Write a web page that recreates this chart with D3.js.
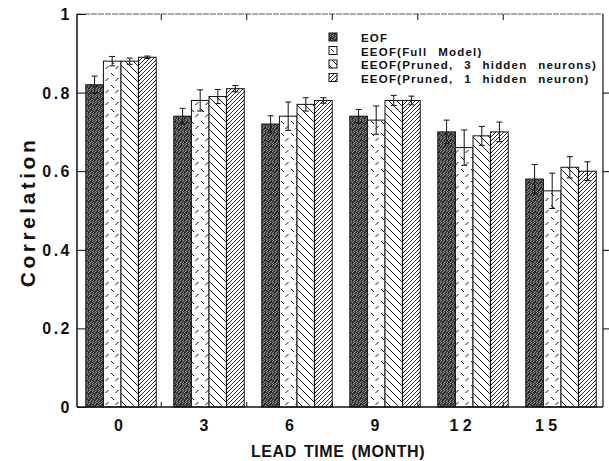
<!DOCTYPE html>
<html>
<head>
<meta charset="utf-8">
<script src="https://cdn.jsdelivr.net/npm/d3@7"></script>
<style>
  body { margin: 0; background: #fff; }
  text { font-family: "Liberation Sans", Arial, sans-serif; font-weight: bold; fill: #111; }
</style>
</head>
<body>
<script>
// lead times and their printed labels
var months = [0, 3, 6, 9, 12, 15];
var monthLabels = ["0", "3", "6", "9", "1 2", "1 5"];
var series = ["EOF", "EEOF(Full  Model)", "EEOF(Pruned,  3  hidden  neurons)", "EEOF(Pruned,  1  hidden  neuron)"];

// correlation per series
var eof     = [0.82, 0.74, 0.72, 0.74, 0.70, 0.58];
var full    = [0.88, 0.78, 0.74, 0.73, 0.66, 0.55];
var pruned3 = [0.88, 0.79, 0.77, 0.78, 0.69, 0.61];
var pruned1 = [0.89, 0.81, 0.78, 0.78, 0.70, 0.60];

// error bar half widths
var eofErr     = [0.022, 0.02, 0.021, 0.017, 0.03, 0.037];
var fullErr    = [0.012, 0.027, 0.036, 0.036, 0.045, 0.045];
var pruned3Err = [0.008, 0.018, 0.017, 0.013, 0.024, 0.027];
var pruned1Err = [0.003, 0.008, 0.007, 0.011, 0.025, 0.024];

var yTicks = [0, 0.2, 0.4, 0.6, 0.8, 1];
var yTickLabels = ["0", "0.2", "0.4", "0.6", "0.8", "1"];

var values = [eof, full, pruned3, pruned1];
var errors = [eofErr, fullErr, pruned3Err, pruned1Err];
var patterns = ["url(#pEof)", "url(#pFull)", "url(#pP3)", "url(#pP1)"];

var width = 609, height = 461;
var plotL = 77, plotR = 603, plotT = 14, plotB = 407;

var svg = d3.select('body')
    .append('svg')
    .attr('width', width)
    .attr('height', height);

// fill patterns
var defs = svg.append('defs');

var pe = defs.append('pattern').attr('id', 'pEof')
    .attr('patternUnits', 'userSpaceOnUse').attr('width', 6).attr('height', 6);
pe.append('rect').attr('width', 6).attr('height', 6).attr('fill', '#3c3c3c');
[[0, 0], [2, 1], [4, 2], [1, 3], [3, 4], [5, 5], [5, 1], [0, 4], [3, 0], [2, 5]].forEach(p => {
    pe.append('rect').attr('x', p[0]).attr('y', p[1]).attr('width', 1).attr('height', 1).attr('fill', '#8c8c8c');
});
[[1, 1], [4, 4], [0, 2]].forEach(p => {
    pe.append('rect').attr('x', p[0]).attr('y', p[1]).attr('width', 1).attr('height', 1).attr('fill', '#111');
});

var pf = defs.append('pattern').attr('id', 'pFull')
    .attr('patternUnits', 'userSpaceOnUse').attr('width', 10).attr('height', 12);
pf.append('rect').attr('width', 10).attr('height', 12).attr('fill', '#fff');
pf.append('path').attr('d', 'M1,1 L4,4 M8.5,6 L5.5,9')
    .attr('stroke', '#111').attr('stroke-width', 1).attr('fill', 'none');

var p3 = defs.append('pattern').attr('id', 'pP3')
    .attr('patternUnits', 'userSpaceOnUse').attr('width', 8).attr('height', 8);
p3.append('rect').attr('width', 8).attr('height', 8).attr('fill', '#fff');
p3.append('path').attr('d', 'M0,0 L8,8 M-1,7 L1,9 M7,-1 L9,1')
    .attr('stroke', '#111').attr('stroke-width', 1);

var p1 = defs.append('pattern').attr('id', 'pP1')
    .attr('patternUnits', 'userSpaceOnUse').attr('width', 4).attr('height', 4);
p1.append('rect').attr('width', 4).attr('height', 4).attr('fill', '#fff');
p1.append('path').attr('d', 'M0,4 L4,0 M-1,1 L1,-1 M3,5 L5,3')
    .attr('stroke', '#111').attr('stroke-width', 0.9);

var x = d3.scaleBand()
    .domain(months)
    .range([plotL, 605])
    .paddingInner(0.2)
    .paddingOuter(0.1);

var xs = d3.scaleBand()
    .domain(d3.range(series.length))
    .range([0, x.bandwidth()]);

// month positions used for the printed labels and minor ticks
var xm = d3.scaleLinear().domain([0, 15]).range([118.5, 546]);

var y = d3.scaleLinear().domain([0, 1]).range([plotB, plotT]);

// bars
values.forEach((vals, s) => {
    var g = svg.append('g');
    g.selectAll('rect')
        .data(vals)
        .enter()
        .append('rect')
        .attr('x', (d, i) => x(months[i]) + xs(s))
        .attr('y', d => y(d))
        .attr('width', xs.bandwidth())
        .attr('height', d => plotB - y(d))
        .attr('fill', patterns[s])
        .attr('stroke', '#111')
        .attr('stroke-width', 1);
});

// error bars
values.forEach((vals, s) => {
    vals.forEach((v, i) => {
        var cx = x(months[i]) + xs(s) + xs.bandwidth() / 2;
        var e = errors[s][i];
        var g = svg.append('g').attr('stroke', '#111').attr('stroke-width', 1);
        g.append('line').attr('x1', cx).attr('x2', cx).attr('y1', y(v - e)).attr('y2', y(v + e));
        g.append('line').attr('x1', cx - 3).attr('x2', cx + 3).attr('y1', y(v + e)).attr('y2', y(v + e));
        g.append('line').attr('x1', cx - 3).attr('x2', cx + 3).attr('y1', y(v - e)).attr('y2', y(v - e));
    });
});

// frame
svg.append('line').attr('x1', plotL).attr('x2', plotR).attr('y1', plotT).attr('y2', plotT)
    .attr('stroke', '#555').attr('stroke-width', 1).attr('stroke-dasharray', '6,1');
svg.append('line').attr('x1', plotL).attr('x2', plotR).attr('y1', plotB).attr('y2', plotB)
    .attr('stroke', '#111').attr('stroke-width', 1.5);
svg.append('line').attr('x1', plotL).attr('x2', plotL).attr('y1', plotT).attr('y2', plotB)
    .attr('stroke', '#111').attr('stroke-width', 1.5);
svg.append('line').attr('x1', plotR).attr('x2', plotR).attr('y1', plotT).attr('y2', plotB)
    .attr('stroke', '#111').attr('stroke-width', 1.2);

// y axis: inward ticks on left, outward on right
var yAxis = d3.axisLeft(y).tickValues(yTicks).tickSize(-9).tickFormat('');
var yAxisGroup = svg.append('g').attr('transform', 'translate(' + plotL + ',0)');
yAxis(yAxisGroup);
yAxisGroup.select('.domain').remove();
yAxisGroup.selectAll('line').attr('stroke', '#111');

var yAxisR = d3.axisRight(y).tickValues(yTicks.slice(1, 5)).tickSize(6).tickFormat('');
var yAxisRGroup = svg.append('g').attr('transform', 'translate(' + plotR + ',0)');
yAxisR(yAxisRGroup);
yAxisRGroup.select('.domain').remove();

svg.append('g').selectAll('text')
    .data(yTicks)
    .enter()
    .append('text')
    .attr('x', 72)
    .attr('y', d => y(d) + 6)
    .attr('text-anchor', 'end')
    .style('font-size', '16px')
    .style('letter-spacing', '2.5px')
    .text((d, i) => yTickLabels[i]);

// minor x ticks between groups (bottom up, top down)
var minor = months.slice(0, 5).map(m => m + 1.5);
svg.append('g').selectAll('line')
    .data(minor)
    .enter()
    .append('line')
    .attr('x1', d => xm(d)).attr('x2', d => xm(d))
    .attr('y1', plotB).attr('y2', plotB - 5)
    .attr('stroke', '#111');
svg.append('g').selectAll('line')
    .data(minor)
    .enter()
    .append('line')
    .attr('x1', d => xm(d)).attr('x2', d => xm(d))
    .attr('y1', plotT).attr('y2', plotT + 6)
    .attr('stroke', '#111');

svg.append('g').selectAll('text')
    .data(months)
    .enter()
    .append('text')
    .attr('x', d => xm(d))
    .attr('y', 431)
    .attr('text-anchor', 'middle')
    .style('font-size', '16px')
    .style('white-space', 'pre')
    .text((d, i) => monthLabels[i]);

// axis titles
svg.append('text')
    .attr('x', 338)
    .attr('y', 457)
    .attr('text-anchor', 'middle')
    .style('font-size', '16px')
    .style('letter-spacing', '0.6px')
    .style('word-spacing', '2px')
    .text('LEAD TIME (MONTH)');

svg.append('text')
    .attr('transform', 'translate(35,212) rotate(-90)')
    .attr('text-anchor', 'middle')
    .style('font-size', '21px')
    .style('letter-spacing', '3.5px')
    .text('Correlation');

// legend
var legend = svg.append('g');
series.forEach((name, s) => {
    var ly = 42 + s * 13.5;
    legend.append('rect')
        .attr('x', 329).attr('y', ly - 9)
        .attr('width', 8).attr('height', 8)
        .attr('fill', patterns[s])
        .attr('stroke', '#111').attr('stroke-width', 1);
    legend.append('text')
        .attr('x', 361).attr('y', ly)
        .style('font-size', '11.5px')
        .style('letter-spacing', '1.2px')
        .style('word-spacing', '1px')
        .style('white-space', 'pre')
        .text(name);
});
</script>
</body>
</html>
